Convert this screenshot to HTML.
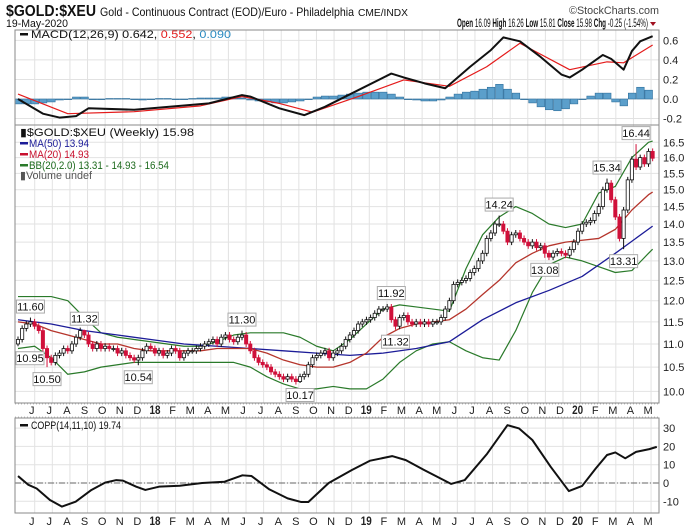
<!DOCTYPE html>
<html><head><meta charset="utf-8">
<style>
html,body{margin:0;padding:0;background:#fff;}
svg{display:block;font-family:"Liberation Sans",Arial,sans-serif;}
</style></head>
<body>
<svg id="chart" width="700" height="530" viewBox="0 0 700 530" xmlns="http://www.w3.org/2000/svg">
  <rect x="0" y="0" width="700" height="530" fill="#fff"/>
  <g>
    <text x="6" y="16" font-size="16" font-weight="bold" textLength="90" lengthAdjust="spacingAndGlyphs" fill="#111">$GOLD:$XEU</text>
    <text x="100" y="16" font-size="12" textLength="254" lengthAdjust="spacingAndGlyphs" fill="#111">Gold - Continuous Contract (EOD)/Euro - Philadelphia</text>
    <text x="358" y="16" font-size="10" textLength="50" lengthAdjust="spacingAndGlyphs" fill="#111">CME/INDX</text>
    <text x="569" y="14" font-size="11" textLength="90" lengthAdjust="spacingAndGlyphs" fill="#444">©StockCharts.com</text>
    <text x="6" y="27" font-size="11" textLength="62" lengthAdjust="spacingAndGlyphs" fill="#111">19-May-2020</text>
    <text x="457" y="27" font-size="12" textLength="191" lengthAdjust="spacingAndGlyphs" fill="#111"><tspan font-weight="bold">Open</tspan> 16.09 <tspan font-weight="bold">High</tspan> 16.26 <tspan font-weight="bold">Low</tspan> 15.81 <tspan font-weight="bold">Close</tspan> 15.98 <tspan font-weight="bold">Chg</tspan> -0.25 (-1.54%)</text>
    <path d="M650 22 L656 22 L653 26 Z" fill="#a01020"/>
  </g>
  <g id="grid"></g>
  <g id="macd"></g>
  <g id="price"></g>
  <g id="copp"></g>
  <g id="axes"></g>
  <defs>
    <clipPath id="clipM"><rect x="15" y="30" width="644" height="95"/></clipPath>
    <clipPath id="clipP"><rect x="15" y="125" width="644" height="278"/></clipPath>
    <clipPath id="clipC"><rect x="15" y="418" width="644" height="95"/></clipPath>
  </defs>
</svg>
<script>
// ---------- DATA ----------
const closes = [11.1,11.35,11.45,11.5,11.4,11.3,10.9,10.7,10.6,10.75,
10.8,10.9,10.85,11.0,11.15,11.3,11.2,11.0,10.9,11.0,
10.9,10.95,10.9,10.9,10.8,10.85,10.75,10.7,10.65,10.7,
10.85,10.95,10.9,10.8,10.85,10.75,10.8,10.9,10.85,10.7,
10.8,10.85,10.85,10.9,10.95,11.0,11.05,11.1,11.0,11.15,
11.2,11.1,11.05,11.15,11.2,11.0,10.85,10.7,10.6,10.55,
10.5,10.4,10.35,10.3,10.25,10.3,10.25,10.2,10.3,10.35,
10.55,10.7,10.75,10.8,10.85,10.7,10.8,10.85,10.95,11.1,
11.2,11.3,11.45,11.5,11.55,11.6,11.7,11.8,11.8,11.85,
11.55,11.4,11.6,11.65,11.5,11.45,11.5,11.45,11.5,11.45,
11.5,11.5,11.6,11.8,12.0,12.4,12.45,12.5,12.55,12.7,
12.8,13.0,13.2,13.6,13.75,14.0,14.0,13.8,13.5,13.7,
13.75,13.6,13.5,13.4,13.5,13.35,13.4,13.2,13.1,13.2,
13.25,13.2,13.15,13.3,13.5,13.8,14.0,14.05,14.1,14.3,
14.5,15.0,15.2,14.7,14.2,13.6,14.4,15.3,15.95,15.7,
16.0,15.8,16.2,15.98];
const firstOpen = 11.0;
// annotated extremes: week index, value, type
const annWeeks = [0,3,7,16,29,54,68,90,91,116,127,142,146,149];
const annValues = [10.95,11.60,10.50,11.32,10.54,11.30,10.17,11.92,11.32,14.24,13.08,15.34,13.31,16.44];
const annTypes = ['low','high','low','high','low','high','low','high','low','high','low','high','low','high'];

const ma50Weeks = [0,8,16,24,32,40,48,56,64,72,80,88,96,104,112,120,128,136,144,153];
const ma50 = [11.55,11.45,11.3,11.2,11.1,11.0,10.95,10.9,10.85,10.8,10.75,10.8,10.9,11.05,11.55,11.95,12.25,12.6,13.2,13.94];
const bandWeeks = [0,4,8,12,16,20,24,28,32,36,40,44,48,52,56,60,64,68,72,76,80,84,88,92,96,100,104,108,112,116,120,124,128,132,136,140,144,148,152,153];
const ma20 = [11.5,11.45,11.3,11.2,11.1,11.0,11.0,10.9,10.85,10.85,
10.85,10.85,10.9,10.9,10.9,10.8,10.65,10.55,10.5,10.5,
10.6,10.8,11.15,11.35,11.45,11.5,11.55,11.8,12.15,12.5,
12.95,13.2,13.4,13.5,13.55,13.6,13.85,14.4,14.85,14.93];
const bbUpper = [12.1,12.1,12.1,12.0,11.6,11.25,11.15,11.1,11.05,11.0,
10.95,10.95,11.05,11.2,11.25,11.25,11.25,11.15,10.95,10.85,
11.1,11.45,11.8,11.9,11.85,11.8,11.75,12.8,13.7,14.2,
14.5,14.3,14.0,13.9,14.0,14.9,15.1,16.0,16.5,16.54];
const bbLower = [10.9,10.95,10.7,10.35,10.4,10.5,10.55,10.6,10.6,10.6,
10.6,10.6,10.6,10.6,10.5,10.3,10.15,10.05,10.05,10.1,
10.05,10.05,10.25,10.6,10.85,11.0,11.05,10.85,10.7,10.65,
11.3,12.2,12.9,13.1,13.0,12.85,12.7,12.75,13.2,13.31];

const macdWeeks = [0,6,10,14,17,28,39,46,54,56,63,69,74,82,90,93,98,103,109,114,117,121,126,131,133,136,141,143,146,148,150,153];
const macdLine = [0.0,-0.15,-0.19,-0.175,-0.095,-0.11,-0.07,-0.045,0.04,0.025,-0.095,-0.165,-0.08,0.09,0.26,0.22,0.16,0.11,0.33,0.5,0.63,0.59,0.43,0.25,0.22,0.30,0.45,0.41,0.30,0.49,0.59,0.642];
const signalWeeks = [0,12,28,44,54,63,71,82,93,104,113,121,133,142,146,153];
const signalLine = [0.05,-0.15,-0.13,-0.07,0.025,-0.045,-0.135,0.025,0.195,0.13,0.33,0.57,0.30,0.38,0.37,0.552];
const histStep = 2;
const macdHist = [-0.05,-0.05,-0.05,-0.04,-0.03,-0.01,0.0,0.02,0.02,0.0,
0.0,0.005,0.005,0.005,0.0,-0.01,0.0,0.005,0.005,0.0,
0.0,0.005,0.01,0.01,0.01,0.02,0.02,0.01,-0.01,-0.02,
-0.03,-0.04,-0.04,-0.03,-0.02,0.0,0.02,0.03,0.03,0.04,
0.05,0.06,0.07,0.07,0.07,0.05,0.02,0.0,-0.01,-0.02,
-0.02,-0.01,0.02,0.05,0.07,0.08,0.1,0.12,0.15,0.1,
0.06,0.0,-0.04,-0.08,-0.11,-0.12,-0.1,-0.05,0.0,0.03,
0.06,0.06,-0.03,-0.07,0.06,0.12,0.09];

const coppWeeks = [0,2.5,4.5,7.7,10.6,13.9,17.7,21,23.7,25.3,28.5,30.7,34,39,44.4,49.8,54.1,56.3,60.6,65,68.3,70,74.9,80.5,84.9,90.2,93.5,97.9,104.4,107.7,113.1,118,120.8,124,128.4,132.8,136,139.3,142,144,146.4,149,152.2,154];
const coppValues = [3.8,-1,-3,-9.3,-12.9,-10.2,-3.8,0.2,1.6,1.3,-2,-3.8,-2,-1.5,0,0.7,4.2,3.8,-3.5,-8.4,-10.4,-10.4,0,7.1,12.2,14.7,12.5,7.1,-0.5,1.6,16,31.6,29.8,23.5,8.9,-4.4,-1.6,8,15.3,16.7,13.5,17,18.5,19.74];

const monthLabels = ['J','J','A','S','O','N','D','18','F','M','A','M','J','J','A','S','O','N','D','19','F','M','A','M','J','J','A','S','O','N','D','20','F','M','A','M'];
const priceTicks = [10.0,10.5,11.0,11.5,12.0,12.5,13.0,13.5,14.0,14.5,15.0,15.5,16.0,16.5];
const macdTicks = [-0.2,0.0,0.2,0.4,0.6];
const coppTicks = [-10,0,10,20,30];

// ---------- AXES ----------
const L=15, R=659;
const xW = i => 18 + 4.148*i;
const xMonth = k => 31.7 + k*17.61;
const yP = v => 142.3 + (Math.log(16.5) - Math.log(v))/0.5*248.7;
const yM = v => 99 - v/0.2*19.56;
const yC = v => 483 - v*1.83;

const NS='http://www.w3.org/2000/svg';
function mk(tag, attrs, parent){ const e=document.createElementNS(NS,tag); for(const k in attrs) e.setAttribute(k,attrs[k]); parent.appendChild(e); return e; }
const gGrid=document.getElementById('grid'), gM=document.getElementById('macd'), gP=document.getElementById('price'), gC=document.getElementById('copp'), gA=document.getElementById('axes');

// panel backgrounds/borders drawn later; gridlines
const panels=[[30,125],[125,403],[418,513]];
monthLabels.forEach((m,k)=>{
  panels.forEach(p=>{
    const ln=mk('line',{x1:xMonth(k)+3,x2:xMonth(k)+3,y1:p[0],y2:p[1],stroke:'#e2e2e2','stroke-width':1},gGrid);
    
    
  });
});
priceTicks.forEach(v=>{
  const ln=mk('line',{x1:L,x2:R,y1:yP(v),y2:yP(v),stroke:'#e2e2e2'},gGrid);
  
  
  const t=mk('text',{x:663,y:yP(v)+4,'font-size':11,fill:'#222'},gA);
  t.textContent=v.toFixed(1);
  
  
});
macdTicks.forEach(v=>{
  const ln=mk('line',{x1:L,x2:R,y1:yM(v),y2:yM(v),stroke:'#e2e2e2'},gGrid);
  
  
  const t=mk('text',{x:663,y:yM(v)+4,'font-size':11,fill:'#222'},gA);
  t.textContent=v.toFixed(1);
  
  
});
coppTicks.forEach(v=>{
  const ln=mk('line',{x1:L,x2:R,y1:yC(v),y2:yC(v),stroke:'#e2e2e2'},gGrid);
  
  
  const t=mk('text',{x:663,y:yC(v)+4,'font-size':11,fill:'#222'},gA);
  t.textContent=String(v);
  
  
});
monthLabels.forEach((m,k)=>{
  [414,525].forEach(yy=>{
    const bold=m.length>1;
    const t=mk('text',{x:xMonth(k),y:yy,'font-size':bold?12:11,'font-weight':bold?'bold':'normal','text-anchor':'middle',fill:'#222'},gA);
    if(bold){t.setAttribute('textLength','11');t.setAttribute('lengthAdjust','spacingAndGlyphs');}
    t.textContent=m;
    
    
  });
});
panels.forEach(p=>{
  const r=mk('rect',{x:L,y:p[0],width:R-L,height:p[1]-p[0],fill:'none',stroke:'#8a8a8a','stroke-width':1},gA);
  
  
});
[404,417].forEach(yy=>{
  const d=mk('line',{x1:L,x2:R,y1:yy,y2:yy,stroke:'#bbb','stroke-dasharray':'1,2'},gA);
  
  
});

function poly(weeks, vals, yf, attrs, parent, name){
  const pts=weeks.map((w,i)=>xW(w).toFixed(2)+','+yf(vals[i]).toFixed(2)).join(' ');
  const p=mk('polyline',Object.assign({points:pts,fill:'none','stroke-linejoin':'round'},attrs),parent);
  
  
  return p;
}

// ---------- MACD ----------
const gMc=mk('g',{'clip-path':'url(#clipM)'},gM);
macdHist.forEach((v,j)=>{
  const x=xW(j*histStep);
  const y0=yM(0), y1=yM(v);
  const r=mk('rect',{x:x-3.6,y:Math.min(y0,y1),width:7.6,height:Math.max(0.6,Math.abs(y1-y0)),fill:'#5b9fcb',stroke:'#2f6f9c','stroke-width':0.6},gMc);
  
  
});
poly(signalWeeks,signalLine,yM,{stroke:'#e41b1b','stroke-width':1.2},gMc,'macd-signal-line');
poly(macdWeeks,macdLine,yM,{stroke:'#111','stroke-width':2},gMc,'macd-line');

// ---------- PRICE ----------
const gPc=mk('g',{'clip-path':'url(#clipP)'},gP);
poly(bandWeeks,bbUpper,yP,{stroke:'#2a7a2a','stroke-width':1.2},gPc,'bb-upper-band');
poly(bandWeeks,bbLower,yP,{stroke:'#2a7a2a','stroke-width':1.2},gPc,'bb-lower-band');
poly(ma50Weeks,ma50,yP,{stroke:'#1c1c98','stroke-width':1.3},gPc,'ma50-line');
poly(bandWeeks,ma20,yP,{stroke:'#b5352c','stroke-width':1.3},gPc,'ma20-line');
closes.forEach((c,i)=>{
  const o = i===0?firstOpen:closes[i-1];
  const x=xW(i);
  const yo=yP(o), yc=yP(c);
  const top=Math.min(yo,yc), bot=Math.max(yo,yc);
  let yh=top-3, yl=bot+3;
  const ai=annWeeks.indexOf(i);
  if(ai>=0){ if(annTypes[ai]==='high') yh=yP(annValues[ai]); else yl=yP(annValues[ai]); }
  const up=c>=o;
  const col=up?'#111':'#d0103a';
  const w=mk('line',{x1:x,x2:x,y1:yh,y2:yl,stroke:col,'stroke-width':1},gPc);
  
  
  const b=mk('rect',{x:x-1.6,y:top,width:3.2,height:Math.max(1,bot-top),fill:up?'#fff':'#d0103a',stroke:col,'stroke-width':0.8},gPc);
  
  
});
annWeeks.forEach((w,k)=>{
  const x=xW(w), v=annValues[k];
  const yy = annTypes[k]==='high' ? yP(v)-11 : yP(v)+12;
  const bx=Math.max(L+1,x-14);
  const r=mk('rect',{x:bx,y:yy-6.5,width:28,height:13,fill:'#fff',stroke:'#aaa','stroke-width':1},gP);
  
  
  const t=mk('text',{x:bx+14,y:yy+4,'font-size':11,'text-anchor':'middle',fill:'#111'},gP);
  t.textContent=v.toFixed(2);
  
  
});

// ---------- COPP ----------
const gCc=mk('g',{'clip-path':'url(#clipC)'},gC);
const z=mk('line',{x1:L,x2:R,y1:yC(0),y2:yC(0),stroke:'#666','stroke-width':1,'stroke-dasharray':'6,2,1,2'},gCc);


poly(coppWeeks,coppValues,yC,{stroke:'#111','stroke-width':2},gCc,'coppock-line');
</script>
<svg width="0" height="0" style="position:absolute"></svg>
<script>
// legends (static text)
(function(){
  const NS='http://www.w3.org/2000/svg', s=document.getElementById('chart');
  function t(x,y,size,fill,txt,len,name){const e=document.createElementNS(NS,'text');e.setAttribute('x',x);e.setAttribute('y',y);e.setAttribute('font-size',size);e.setAttribute('fill',fill);if(len){e.setAttribute('textLength',len);e.setAttribute('lengthAdjust','spacingAndGlyphs');}e.textContent=txt;s.appendChild(e);return e;}
  function seg(x,y,col,name){const e=document.createElementNS(NS,'rect');e.setAttribute('x',x);e.setAttribute('y',y-1);e.setAttribute('width',8);e.setAttribute('height',2.5);e.setAttribute('fill',col);s.appendChild(e);return e;}
  let e;
  e=seg(20,34,'#111');
  
  
  e=t(31,38,11,'#111','',0);
  
  
  e.innerHTML='<tspan>MACD(12,26,9) 0.642</tspan><tspan>, </tspan><tspan fill="#e41b1b">0.552</tspan><tspan>, </tspan><tspan fill="#2a8ac0">0.090</tspan>';
  e.setAttribute('textLength','200');e.setAttribute('lengthAdjust','spacingAndGlyphs');
  e=t(20,136,11,'#111','▮$GOLD:$XEU (Weekly) 15.98',174);
  
  
  e=seg(20,143,'#1c1c98');
  
  
  e=t(29,147,11,'#1c1c98','MA(50) 13.94',60);
  
  
  e=seg(20,154,'#c8102e');
  
  
  e=t(29,158,11,'#c8102e','MA(20) 14.93',60);
  
  
  e=seg(20,165,'#2a7a2a');
  
  
  e=t(29,169,11,'#1d6a1d','BB(20,2.0) 13.31 - 14.93 - 16.54',140);
  
  
  e=t(20,179,11,'#555','▮Volume undef',72);
  
  
  e=seg(20,425,'#111');
  
  
  e=t(31,429,11,'#111','COPP(14,11,10) 19.74',90);
  
  
})();
</script>
</body></html>
